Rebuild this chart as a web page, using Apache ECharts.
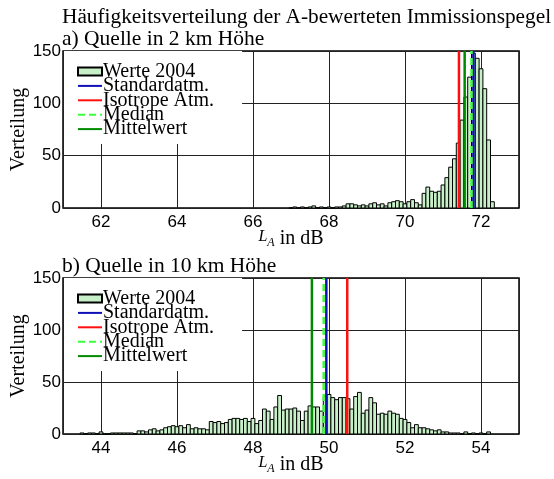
<!DOCTYPE html>
<html><head><meta charset="utf-8">
<script src="https://cdn.jsdelivr.net/npm/echarts@6/dist/echarts.min.js"></script>
<style>html,body{margin:0;padding:0;background:#fff}#c{width:554px;height:479px}</style>
</head><body><div id="c"></div>
<script>
// ---------- data ----------
const titleText = 'Häufigkeitsverteilung der A-bewerteten Immissionspegel';
const panelTitles = ['a) Quelle in 2 km Höhe', 'b) Quelle in 10 km Höhe'];
const seriesNames = ['Werte 2004', 'Standardatm.', 'Isotrope Atm.', 'Median', 'Mittelwert'];
const yTicks = [0, 50, 100, 150];
const topRange = [61, 73];
const bottomRange = [43, 55];

// histogram a) bin centres (dB) and counts
const topBins = [67.0,67.1,67.2,67.3,67.4,67.5,67.6,67.7,67.8,67.9,
  68.0,68.1,68.2,68.3,68.4,68.5,68.6,68.7,68.8,68.9,
  69.0,69.1,69.2,69.3,69.4,69.5,69.6,69.7,69.8,69.9,
  70.0,70.1,70.2,70.3,70.4,70.5,70.6,70.7,70.8,70.9,
  71.0,71.1,71.2,71.3,71.4,71.5,71.6,71.7,71.8,71.9,
  72.0,72.1,72.2,72.3];
const topCounts = [0,1,0,1,0,1,2,0,1,0,
  1,0,1,1,2,4,4,3,2,3,
  2,4,5,3,4,2,5,6,7,6,
  4,6,8,5,3,14,20,16,15,16,
  22,29,39,47,62,84,106,125,148,143,
  133,114,65,6];

// histogram b) bin centres (dB) and counts
const bottomBins = [43.5,43.6,43.7,43.8,43.9,
  44.0,44.1,44.2,44.3,44.4,44.5,44.6,44.7,44.8,44.9,
  45.0,45.1,45.2,45.3,45.4,45.5,45.6,45.7,45.8,45.9,
  46.0,46.1,46.2,46.3,46.4,46.5,46.6,46.7,46.8,46.9,
  47.0,47.1,47.2,47.3,47.4,47.5,47.6,47.7,47.8,47.9,
  48.0,48.1,48.2,48.3,48.4,48.5,48.6,48.7,48.8,48.9,
  49.0,49.1,49.2,49.3,49.4,49.5,49.6,49.7,49.8,49.9,
  50.0,50.1,50.2,50.3,50.4,50.5,50.6,50.7,50.8,50.9,
  51.0,51.1,51.2,51.3,51.4,51.5,51.6,51.7,51.8,51.9,
  52.0,52.1,52.2,52.3,52.4,52.5,52.6,52.7,52.8,52.9,
  53.0,53.1,53.2,53.3,53.4,53.5,53.6,53.7,53.8,53.9,
  54.0,54.1,54.2];
const bottomCounts = [1,0,1,1,0,
  2,0,0,1,1,1,1,1,1,0,
  3,3,2,4,5,3,4,6,7,8,
  7,8,6,9,5,6,5,5,4,12,
  11,12,10,11,14,15,15,14,15,12,
  15,10,13,24,22,14,26,37,23,24,
  24,25,22,13,22,27,26,26,22,36,
  38,35,33,35,35,34,24,36,40,20,
  23,35,30,19,20,19,22,20,19,15,
  14,11,6,9,6,6,5,4,3,4,
  2,2,1,1,1,0,2,0,1,0,
  1,0,2];

// vertical reference lines: Standardatm., Isotrope Atm., Median, Mittelwert
const topLines = [71.80, 71.42, 71.75, 71.57];
const bottomLines = [49.93, 50.48, 49.86, 49.55];

// ---------- chart ----------
const binHalf = 0.05;
const serif = 'Liberation Serif';
const sans = 'Liberation Sans';
const lineColors = ['#1010b8', '#ff1010', '#3cff3c', '#008a00'];
const lineTypes = ['solid', 'solid', [7, 4], 'solid'];

function histItem(params, api) {
  const x = api.value(0), y = api.value(1);
  const p0 = api.coord([x - binHalf, y]);
  const p1 = api.coord([x + binHalf, 0]);
  return {
    type: 'rect',
    shape: { x: p0[0], y: p0[1], width: p1[0] - p0[0], height: p1[1] - p0[1] },
    style: { fill: '#c8f0c8', stroke: '#000', lineWidth: 1 }
  };
}

const grids = [
  { left: 63, top: 51, width: 456, height: 157 },
  { left: 63, top: 278, width: 456, height: 156 }
];

const xAxes = [topRange, bottomRange].map((r, i) => ({
  type: 'value', gridIndex: i, min: r[0], max: r[1], splitNumber: 6,
  axisLine: { show: false }, axisTick: { show: false },
  splitLine: { show: true, lineStyle: { color: '#222', width: 1 } },
  axisLabel: { showMinLabel: false, showMaxLabel: false, fontFamily: sans, fontSize: 17, color: '#000', margin: 6 },
  name: '{L|L}{A|A}{t| in dB}', nameLocation: 'middle', nameGap: 21, nameMoveOverlap: false,
  nameTextStyle: {
    rich: {
      L: { fontFamily: serif, fontStyle: 'italic', fontSize: 16, color: '#000', verticalAlign: 'top', lineHeight: 20 },
      A: { fontFamily: serif, fontStyle: 'italic', fontSize: 12, color: '#000', verticalAlign: 'bottom', lineHeight: 20 },
      t: { fontFamily: serif, fontSize: 20, color: '#000', lineHeight: 20 }
    }
  }
}));

const yAxes = [0, 1].map(i => ({
  type: 'value', gridIndex: i, min: yTicks[0], max: yTicks[yTicks.length - 1], interval: yTicks[1] - yTicks[0],
  axisLine: { show: false }, axisTick: { show: false },
  splitLine: { show: true, lineStyle: { color: '#222', width: 1 } },
  axisLabel: { fontFamily: sans, fontSize: 17, color: '#000', margin: 2 },
  name: 'Verteilung', nameLocation: 'middle', nameGap: 34, nameRotate: 90, nameMoveOverlap: false,
  nameTextStyle: { fontFamily: serif, fontSize: 20, color: '#000' }
}));

const series = [];
[[topBins, topCounts, topLines], [bottomBins, bottomCounts, bottomLines]].forEach((d, i) => {
  series.push({
    type: 'custom', name: seriesNames[0], xAxisIndex: i, yAxisIndex: i,
    renderItem: histItem, encode: { x: 0, y: 1 },
    itemStyle: { color: '#c8f0c8', borderColor: '#000', borderWidth: 1 },
    data: d[0].map((b, k) => [b, d[1][k]]), silent: true
  });
  d[2].forEach((v, k) => {
    series.push({
      type: 'line', name: seriesNames[k + 1], xAxisIndex: i, yAxisIndex: i,
      data: [[v, yTicks[0]], [v, yTicks[yTicks.length - 1]]], symbol: 'none', silent: true,
      lineStyle: { color: lineColors[k], width: 2.5, type: lineTypes[k] },
      itemStyle: { color: lineColors[k] }, z: 3 + k
    });
  });
});

const legends = [0, 1].map(i => ({
  orient: 'vertical', left: 64, top: i ? 278 : 51,
  data: [{ name: seriesNames[0], icon: 'rect' }].concat(
    seriesNames.slice(1).map(n => ({ name: n, itemStyle: { opacity: 0 } }))),
  itemWidth: 24, itemHeight: 8, itemGap: -5.6, selectedMode: false,
  textStyle: { fontFamily: serif, fontSize: 20, color: '#000', padding: [0, 0, 0, -4] },
  backgroundColor: '#fff', padding: [10.5, 28, 5, 13]
}));

const chart = echarts.init(document.getElementById('c'), null, { renderer: 'canvas' });
chart.setOption({
  backgroundColor: '#fff',
  animation: false,
  title: [
    { text: titleText, left: 62, top: 7, padding: 0, textStyle: { fontFamily: serif, fontSize: 21.3, fontWeight: 'normal', color: '#000' } },
    { text: panelTitles[0], left: 62, top: 28, padding: 0, textStyle: { fontFamily: serif, fontSize: 21.5, fontWeight: 'normal', color: '#000' } },
    { text: panelTitles[1], left: 62, top: 255, padding: 0, textStyle: { fontFamily: serif, fontSize: 21.5, fontWeight: 'normal', color: '#000' } }
  ],
  grid: grids.map(g => Object.assign({ show: true, borderColor: '#000', borderWidth: 1.5, backgroundColor: 'transparent', containLabel: false, outerBoundsMode: 'none' }, g)),
  xAxis: xAxes,
  yAxis: yAxes,
  legend: legends,
  series: series
});
</script>
</body></html>
